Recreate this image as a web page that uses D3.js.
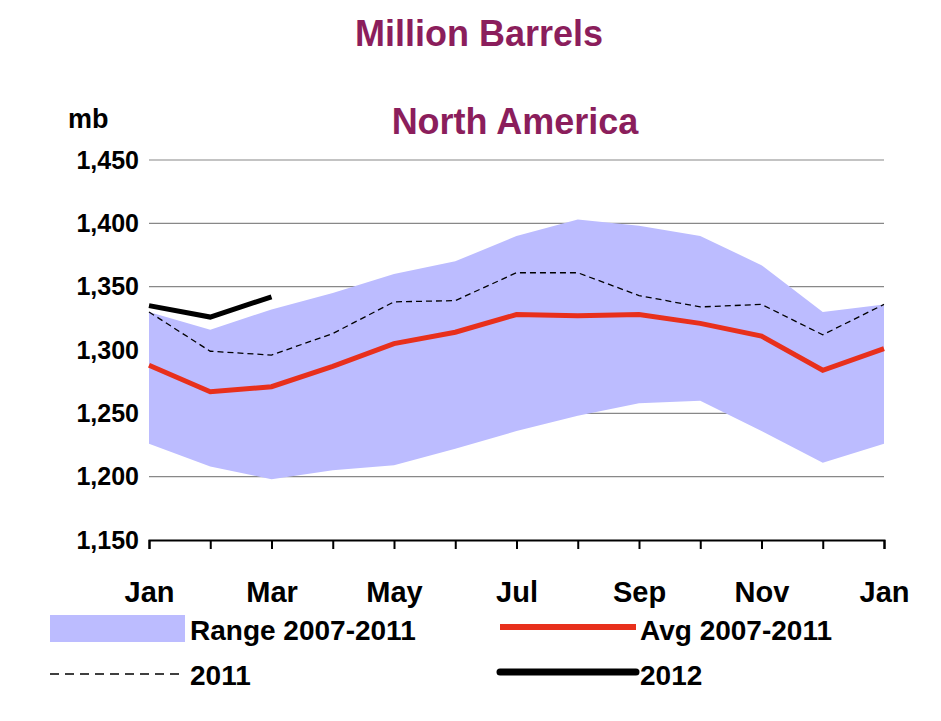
<!DOCTYPE html>
<html><head><meta charset="utf-8">
<script src="https://cdn.jsdelivr.net/npm/d3@7"></script>
<style>body{margin:0;background:#fff}text{font-family:"Liberation Sans",Arial,sans-serif;font-weight:bold}</style>
</head><body><svg id="chart" width="941" height="721"></svg>
<script>
const months = ["Jan","Feb","Mar","Apr","May","Jun","Jul","Aug","Sep","Oct","Nov","Dec","Jan2"];
const monthLabels = ["Jan","","Mar","","May","","Jul","","Sep","","Nov","","Jan"];
const rangeHigh = [1330,1316,1332,1345,1360,1370,1390,1403,1398,1390,1367,1330,1336];
const rangeLow = [1226,1208,1198,1205,1209,1222,1236,1248,1258,1260,1236,1211,1226];
const avg = [1288,1267,1271,1287,1305,1314,1328,1327,1328,1321,1311,1284,1301];
const y2011 = [1330,1299,1296,1313,1338,1339,1361,1361,1343,1334,1336,1312,1336];
const y2012 = [1335,1326,1342];
const yTicks = [1150,1200,1250,1300,1350,1400,1450];

var svg = d3.select("#chart");
var x = d3.scalePoint().domain(months).range([149, 884]);
var y = d3.scaleLinear().domain([1150, 1450]).range([540, 160]);

svg.selectAll(".grid").data(yTicks.slice(1)).enter().append("line")
  .attr("x1", 149).attr("x2", 884).attr("y1", d => y(d)).attr("y2", d => y(d))
  .attr("stroke", "#888").attr("stroke-width", 1.2);

var area = d3.area().x((d, i) => x(months[i])).y0((d, i) => y(rangeLow[i])).y1(d => y(d));
svg.append("path").datum(rangeHigh).attr("d", area).attr("fill", "#bcbcff");

var line = d3.line().x((d, i) => x(months[i])).y(d => y(d));
svg.append("path").datum(y2011).attr("d", line).attr("fill", "none")
  .attr("stroke", "#000").attr("stroke-width", 1.3).attr("stroke-dasharray", "6,4");
svg.append("path").datum(avg).attr("d", line).attr("fill", "none")
  .attr("stroke", "#e8301c").attr("stroke-width", 5);
svg.append("path").datum(y2012).attr("d", line).attr("fill", "none")
  .attr("stroke", "#000").attr("stroke-width", 5);

var xAxis = svg.append("g").attr("transform", "translate(0,540)")
  .call(d3.axisBottom(x).tickSize(9).tickFormat((d, i) => monthLabels[i]));
xAxis.select(".domain").attr("stroke", "#000").attr("stroke-width", 2);
xAxis.selectAll(".tick line").attr("stroke", "#000").attr("stroke-width", 2);
xAxis.selectAll("text").attr("y", 62).attr("dy", 0).style("font-size", "29px").attr("fill", "#000");

var yAxis = svg.append("g").attr("transform", "translate(149,0)")
  .call(d3.axisLeft(y).tickValues(yTicks).tickSize(0).tickPadding(10).tickFormat(d3.format(",")));
yAxis.select(".domain").remove();
yAxis.selectAll("text").style("font-size", "25px").attr("fill", "#000");

svg.append("text").attr("x", 479).attr("y", 46).attr("text-anchor", "middle")
  .attr("fill", "#8b1e5c").style("font-size", "36px").text("Million Barrels");
svg.append("text").attr("x", 515).attr("y", 134).attr("text-anchor", "middle")
  .attr("fill", "#8b1e5c").style("font-size", "36px").text("North America");
svg.append("text").attr("x", 68).attr("y", 128).attr("fill", "#000").style("font-size", "27px").text("mb");

// legend
svg.append("rect").attr("x", 50).attr("y", 615).attr("width", 135).attr("height", 27).attr("fill", "#bcbcff");
svg.append("text").attr("x", 190).attr("y", 640).style("font-size", "28px").text("Range 2007-2011");
svg.append("line").attr("x1", 500).attr("x2", 636).attr("y1", 627).attr("y2", 627).attr("stroke", "#e8301c").attr("stroke-width", 6);
svg.append("text").attr("x", 640).attr("y", 640).style("font-size", "28px").text("Avg 2007-2011");
svg.append("line").attr("x1", 50).attr("x2", 185).attr("y1", 674).attr("y2", 674).attr("stroke", "#000").attr("stroke-width", 1.3).attr("stroke-dasharray", "9,6");
svg.append("text").attr("x", 190).attr("y", 685).style("font-size", "28px").text("2011");
svg.append("line").attr("x1", 500).attr("x2", 636).attr("y1", 672).attr("y2", 672).attr("stroke", "#000").attr("stroke-width", 7).attr("stroke-linecap", "round");
svg.append("text").attr("x", 640).attr("y", 685).style("font-size", "28px").text("2012");
</script></body></html>
